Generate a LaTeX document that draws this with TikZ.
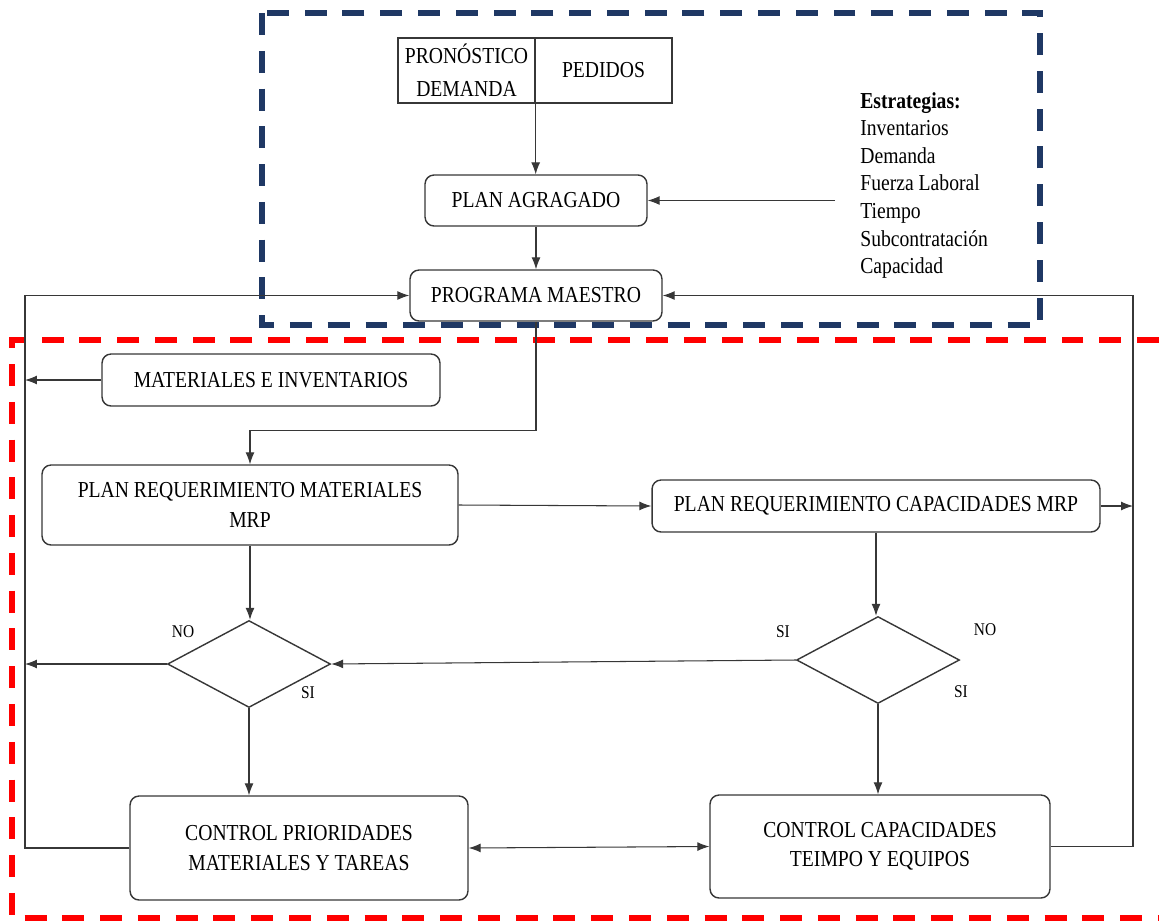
\documentclass[tikz,border=0pt]{standalone}
\usepackage{fontspec}
\setmainfont{Liberation Serif}[FakeStretch=0.86]
\usetikzlibrary{arrows.meta,shapes.geometric}

\tikzset{
  flow/.style={draw=ln, line width=.6pt, -{Latex[length=2.4mm,width=1.8mm]}},
  stepbox/.style={draw=ln, fill=white, line width=.8pt, rounded corners=.18cm,
    align=center, inner sep=0pt, font=\fontsize{13}{16.8}\selectfont},
  sqbox/.style={draw=ln, fill=white, line width=.8pt, align=center,
    inner sep=0pt, font=\fontsize{13}{18.8}\selectfont},
  decision/.style={diamond, draw=ln, fill=white, line width=.8pt,
    minimum width=3.26cm, minimum height=1.74cm, inner sep=0pt},
  lbl/.style={inner sep=0pt, font=\fontsize{10.2}{12}\selectfont},
  frame/.style={line width=2.9pt, dash pattern=on 12.5pt off 9pt}
}

\begin{document}
\begin{tikzpicture}[x=0.02cm, y=-0.02cm]
 \definecolor{navy}{RGB}{31,56,100}
 \definecolor{lred}{RGB}{255,0,0}
 \definecolor{ln}{RGB}{55,55,55}
 \useasboundingbox (0,0) rectangle (1159,923);

 % dashed frames
 \draw[frame, navy] (262,13) rectangle (1040,325);
 \draw[frame, lred] (1159,340) -- (12,340) -- (12,918) -- (1159,918);

 % upper block
 \node[sqbox, minimum width=2.74cm, minimum height=1.3cm] (pron) at (466.5,70.5) {PRONÓSTICO\\DEMANDA};
 \node[sqbox, minimum width=2.74cm, minimum height=1.3cm] (ped) at (603.5,70.5) {PEDIDOS};
 \node[stepbox, minimum width=4.44cm, minimum height=1.02cm] (agr) at (536,200.5) {PLAN AGRAGADO};
 \node[stepbox, minimum width=5.04cm, minimum height=1.02cm] (prog) at (536,295.5) {PROGRAMA MAESTRO};
 \node[anchor=north west, align=left, inner xsep=.5cm, inner ysep=0pt,
   font=\fontsize{13}{15.7}\selectfont] (estr) at (835,92)
   {\textbf{Estrategias:}\\Inventarios\\Demanda\\Fuerza Laboral\\Tiempo\\Subcontratación\\Capacidad};

 % lower block
 \node[stepbox, minimum width=6.76cm, minimum height=1.04cm] (mat) at (271,380) {MATERIALES E INVENTARIOS};
 \node[stepbox, minimum width=8.32cm, minimum height=1.6cm] (prm) at (250,505) {PLAN REQUERIMIENTO MATERIALES\\MRP};
 \node[stepbox, minimum width=8.96cm, minimum height=1.04cm] (prc) at (876,506) {PLAN REQUERIMIENTO CAPACIDADES MRP};
 \node[decision] (dl) at (249,664) {};
 \node[decision] (dr) at (878,660) {};
 \node[stepbox, minimum width=6.76cm, minimum height=2.08cm] (ctlprio) at (299,848) {CONTROL PRIORIDADES\\MATERIALES Y TAREAS};
 \node[stepbox, minimum width=6.8cm, minimum height=2.06cm] (ctlcap) at (880,846.5) {CONTROL CAPACIDADES\\TEIMPO Y EQUIPOS};

 \foreach \txt/\xp/\yp in {
   NO/183/632, SI/308/693,
   SI/783/632, NO/985/630, SI/961/692
 } {
   \node[lbl] (lab\xp) at (\xp,\yp) {\txt};
 }

 % rails
 \coordinate (leftrail) at (25,0);
 \coordinate (rightrail) at (1133,0);

 % connectors
 \draw[flow] (pron.south east) -- (pron.south east |- agr.north);
 \draw[flow] (estr.west |- agr.east) -- (agr.east);
 \foreach \a/\b in {agr/prog, prm/dl, prc/dr, dl/ctlprio, dr/ctlcap} {
   \draw[flow] (\a.south) -- (\a.south |- \b.north);
 }
 \draw[flow] (prog.south) -- ++(0,109) -| (prm.north);
 \draw[flow] (prm.east) -- (prc.west);
 \draw[flow] (dr.west) -- (dl.east);
 \draw[flow] (mat.west) -- (mat.west -| leftrail);
 \draw[flow] (dl.west) -- (dl.west -| leftrail);
 \draw[flow] (prc.east) -- (prc.east -| rightrail);
 \draw[flow] (ctlprio.west) -- (ctlprio.west -| leftrail)
   -- (prog.west -| leftrail) -- (prog.west);
 \draw[flow] (ctlcap.east) -- (ctlcap.east -| rightrail)
   -- (prog.east -| rightrail) -- (prog.east);
 \draw[flow, {Latex[length=2.4mm,width=1.8mm]}-{Latex[length=2.4mm,width=1.8mm]}]
   (ctlprio.east) -- (ctlcap.west);
\end{tikzpicture}
\end{document}
